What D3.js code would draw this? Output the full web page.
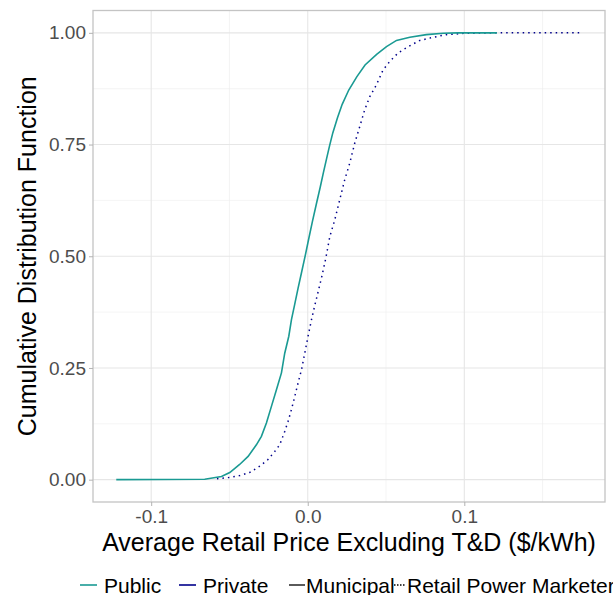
<!DOCTYPE html>
<html>
<head>
<meta charset="utf-8">
<script src="https://cdn.jsdelivr.net/npm/d3@7/dist/d3.min.js"></script>
<style>
body { margin: 0; background: #fff; }
text { font-family: "Liberation Sans", Arial, sans-serif; }
</style>
</head>
<body>
<div id="graphic"></div>
<script>
// ECDF: public / municipal utilities
var publicX = [-0.1223, -0.0658, -0.0551, -0.0498, -0.0435, -0.0381, -0.0328, -0.0296, -0.0264, -0.0232,
  -0.0200, -0.0168, -0.0147, -0.0121, -0.0104, -0.0083, -0.0062, -0.0040, -0.0015, 0.0005,
  0.0030, 0.0055, 0.0080, 0.0100, 0.0120, 0.0140, 0.0160, 0.0190, 0.0220, 0.0262,
  0.0314, 0.0366, 0.0440, 0.0503, 0.0567, 0.0652, 0.0758, 0.0865, 0.0958, 0.1208];
var publicY = [0, 0.001, 0.007, 0.016, 0.034, 0.052, 0.078, 0.097, 0.127, 0.164,
  0.201, 0.239, 0.283, 0.321, 0.358, 0.393, 0.428, 0.463, 0.503, 0.537,
  0.578, 0.617, 0.655, 0.687, 0.718, 0.748, 0.776, 0.810, 0.840, 0.872,
  0.902, 0.928, 0.952, 0.969, 0.983, 0.990, 0.996, 0.999, 1, 1];

// private / retail power marketers
var privateX = [-0.0580, -0.0498, -0.0435, -0.0371, -0.0307, -0.0254, -0.0211, -0.0179, -0.0147, -0.0126,
  -0.0104, -0.0083, -0.0062, -0.0040, -0.0019, 0.0002, 0.0024, 0.0045, 0.0066, 0.0090,
  0.0115, 0.0141, 0.0173, 0.0204, 0.0236, 0.0268, 0.0300, 0.0332, 0.0364, 0.0396,
  0.0439, 0.0481, 0.0524, 0.0577, 0.0641, 0.0716, 0.0801, 0.0886, 0.1003, 0.1182, 0.1750];
var privateY = [0.002, 0.005, 0.009, 0.016, 0.030, 0.045, 0.063, 0.078, 0.108, 0.130,
  0.157, 0.186, 0.216, 0.246, 0.283, 0.321, 0.358, 0.390, 0.420, 0.455,
  0.495, 0.544, 0.582, 0.626, 0.671, 0.708, 0.753, 0.790, 0.828, 0.857,
  0.884, 0.917, 0.936, 0.955, 0.969, 0.983, 0.990, 0.996, 0.999, 1, 1];

var xTicks = [-0.1, 0, 0.1];
var xMinor = [-0.05, 0.05, 0.15];
var xTickLabels = ["-0.1", "0.0", "0.1"];
var yTicks = [0, 0.25, 0.5, 0.75, 1];
var yMinor = [0.125, 0.375, 0.625, 0.875];
var yTickLabels = ["0.00", "0.25", "0.50", "0.75", "1.00"];

var colourLabels = ["Public", "Private"];
var colourValues = ["#1a9a93", "#00008b"];
var typeLabels = ["Municipal", "Retail Power Marketer"];

var width = 613, height = 595;
var pLeft = 93, pRight = 605, pTop = 10.5, pBottom = 502;

var svg = d3.select("#graphic")
    .append("svg")
    .attr("width", width)
    .attr("height", height);

// ggplot style 5% expansion
var xmin = d3.min(publicX.concat(privateX)), xmax = d3.max(publicX.concat(privateX));
var pad = (xmax - xmin) * 0.05;
var x = d3.scaleLinear().domain([xmin - pad, xmax + pad]).range([pLeft, pRight]);
var y = d3.scaleLinear().domain([-0.05, 1.05]).range([pBottom, pTop]);

// grid
svg.append("g").selectAll("line")
    .data(xMinor).enter().append("line")
    .attr("x1", function(d) { return x(d); }).attr("x2", function(d) { return x(d); })
    .attr("y1", pTop).attr("y2", pBottom)
    .attr("stroke", "#ededed").attr("stroke-width", 0.6);
svg.append("g").selectAll("line")
    .data(yMinor).enter().append("line")
    .attr("y1", function(d) { return y(d); }).attr("y2", function(d) { return y(d); })
    .attr("x1", pLeft).attr("x2", pRight)
    .attr("stroke", "#ededed").attr("stroke-width", 0.6);
svg.append("g").selectAll("line")
    .data(xTicks).enter().append("line")
    .attr("x1", function(d) { return x(d); }).attr("x2", function(d) { return x(d); })
    .attr("y1", pTop).attr("y2", pBottom)
    .attr("stroke", "#e6e6e6").attr("stroke-width", 1.1);
svg.append("g").selectAll("line")
    .data(yTicks).enter().append("line")
    .attr("y1", function(d) { return y(d); }).attr("y2", function(d) { return y(d); })
    .attr("x1", pLeft).attr("x2", pRight)
    .attr("stroke", "#e6e6e6").attr("stroke-width", 1.1);

// curves
var lineGen = d3.line()
    .x(function(d) { return x(d[0]); })
    .y(function(d) { return y(d[1]); });

svg.append("path")
    .attr("d", lineGen(d3.zip(privateX, privateY)))
    .attr("fill", "none")
    .attr("stroke", colourValues[1])
    .attr("stroke-width", 1.5)
    .attr("stroke-dasharray", "1.5,4");

svg.append("path")
    .attr("d", lineGen(d3.zip(publicX, publicY)))
    .attr("fill", "none")
    .attr("stroke", colourValues[0])
    .attr("stroke-width", 1.6);

// panel border
svg.append("rect")
    .attr("x", pLeft).attr("y", pTop)
    .attr("width", pRight - pLeft).attr("height", pBottom - pTop)
    .attr("fill", "none").attr("stroke", "#c4c4c4").attr("stroke-width", 1.3);

// axes
var xAxis = d3.axisBottom(x).tickValues(xTicks)
    .tickFormat(function(d, i) { return xTickLabels[i]; })
    .tickSize(4).tickPadding(4);
var gx = svg.append("g").attr("transform", "translate(0," + pBottom + ")").call(xAxis);

var yAxis = d3.axisLeft(y).tickValues(yTicks)
    .tickFormat(function(d, i) { return yTickLabels[i]; })
    .tickSize(4).tickPadding(3);
var gy = svg.append("g").attr("transform", "translate(" + pLeft + ",0)").call(yAxis);

[gx, gy].forEach(function(g) {
    g.select(".domain").remove();
    g.selectAll(".tick line").attr("stroke", "#b3b3b3").attr("stroke-width", 1);
    g.selectAll(".tick text")
        .attr("fill", "#4d4d4d")
        .style("font-size", "19px")
        .style("font-family", "'Liberation Sans', Arial, sans-serif");
});

// axis titles
svg.append("text")
    .attr("x", (pLeft + pRight) / 2).attr("y", 551)
    .attr("text-anchor", "middle")
    .style("font-size", "25px")
    .text("Average Retail Price Excluding T&D ($/kWh)");

svg.append("text")
    .attr("transform", "translate(36," + ((pTop + pBottom) / 2) + ") rotate(-90)")
    .attr("text-anchor", "middle")
    .style("font-size", "25px")
    .text("Cumulative Distribution Function");

// legend (bottom, clipped by the page edge like the original)
var legendY = 585;
var colourKeyX = [80, 179];
colourLabels.forEach(function(lab, i) {
    svg.append("line")
        .attr("x1", colourKeyX[i]).attr("x2", colourKeyX[i] + 17)
        .attr("y1", legendY).attr("y2", legendY)
        .attr("stroke", colourValues[i]).attr("stroke-width", 1.6);
    svg.append("text")
        .attr("x", colourKeyX[i] + 24).attr("y", legendY + 7.5)
        .style("font-size", "21px")
        .text(lab);
});
var typeKeyX = [289, 394];
var typeKeyW = [16, 12];
var typeDash = [null, "1.5,1.5"];
typeLabels.forEach(function(lab, i) {
    svg.append("line")
        .attr("x1", typeKeyX[i]).attr("x2", typeKeyX[i] + typeKeyW[i])
        .attr("y1", legendY).attr("y2", legendY)
        .attr("stroke", "#000").attr("stroke-width", 1.3)
        .attr("stroke-dasharray", typeDash[i]);
    svg.append("text")
        .attr("x", typeKeyX[i] + typeKeyW[i] + 1).attr("y", legendY + 7.5)
        .style("font-size", "21px")
        .text(lab);
});
</script>
</body>
</html>
